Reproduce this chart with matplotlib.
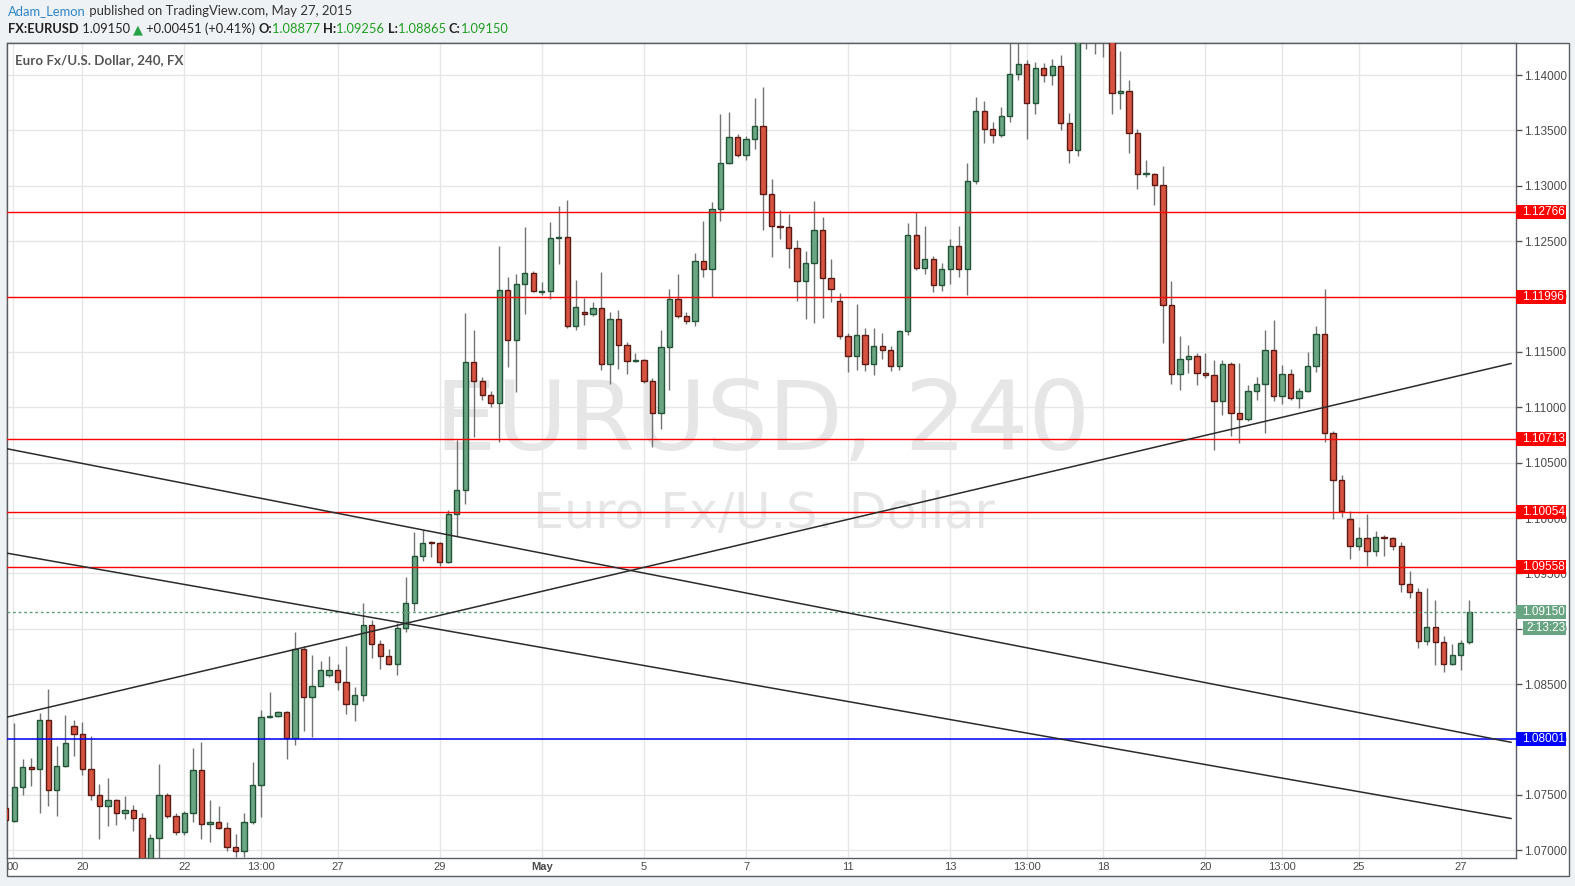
import matplotlib
matplotlib.use('Agg')
import matplotlib.pyplot as plt
import matplotlib.transforms as mtransforms
from matplotlib.patches import Rectangle
import numpy as np

# EURUSD 4h candles, 17 Apr - 27 May 2015
opens = [1.0738, 1.0726, 1.0757, 1.0775, 1.0773, 1.0818, 1.0754, 1.0776, 1.0812, 1.0805,
         1.0773, 1.0750, 1.0740, 1.0745, 1.0734, 1.0736, 1.0729, 1.0690, 1.0711, 1.0750,
         1.0731, 1.0716, 1.0734, 1.0772, 1.0724, 1.0725, 1.0720, 1.0703, 1.0699, 1.0725,
         1.0759, 1.0820, 1.0821, 1.0825, 1.0801, 1.0882, 1.0838, 1.0848, 1.0858, 1.0863,
         1.0852, 1.0832, 1.0840, 1.0903, 1.0886, 1.0875, 1.0868, 1.0901, 1.0923, 1.0966,
         1.0978, 1.0977, 1.0960, 1.1004, 1.1025, 1.1141, 1.1124, 1.1111, 1.1104, 1.1206,
         1.1161, 1.1211, 1.1221, 1.1204, 1.1205, 1.1253, 1.1254, 1.1173, 1.1186, 1.1184,
         1.1190, 1.1139, 1.1180, 1.1156, 1.1142, 1.1143, 1.1124, 1.1095, 1.1154, 1.1198,
         1.1182, 1.1178, 1.1232, 1.1225, 1.1279, 1.1321, 1.1344, 1.1328, 1.1342, 1.1354,
         1.1293, 1.1264, 1.1263, 1.1244, 1.1214, 1.1230, 1.1260, 1.1217, 1.1196, 1.1164,
         1.1146, 1.1165, 1.1139, 1.1155, 1.1152, 1.1137, 1.1169, 1.1256, 1.1226, 1.1234,
         1.1210, 1.1225, 1.1246, 1.1225, 1.1304, 1.1368, 1.1351, 1.1346, 1.1363, 1.1401,
         1.1410, 1.1375, 1.1406, 1.1400, 1.1408, 1.1357, 1.1332, 1.1440, 1.1452, 1.1445,
         1.1438, 1.1384, 1.1386, 1.1348, 1.1311, 1.1311, 1.1301, 1.1192, 1.1130, 1.1144,
         1.1146, 1.1131, 1.1129, 1.1106, 1.1139, 1.1095, 1.1089, 1.1115, 1.1121, 1.1152,
         1.1110, 1.1130, 1.1108, 1.1115, 1.1137, 1.1166, 1.1077, 1.1034, 1.0999, 1.0975,
         1.0982, 1.0970, 1.0983, 1.0982, 1.0975, 1.0940, 1.0933, 1.0889, 1.0902, 1.0888,
         1.0868, 1.0876, 1.08877]
highs = [1.0741, 1.0815, 1.0782, 1.0783, 1.0824, 1.0846, 1.0794, 1.0822, 1.0818, 1.0816,
         1.0803, 1.0760, 1.0765, 1.0746, 1.0749, 1.0741, 1.0734, 1.0715, 1.0778, 1.0752,
         1.0734, 1.0735, 1.0792, 1.0798, 1.0745, 1.0740, 1.0725, 1.0715, 1.0734, 1.0780,
         1.0827, 1.0843, 1.0826, 1.0826, 1.0897, 1.0884, 1.0876, 1.0871, 1.0875, 1.0868,
         1.0884, 1.0847, 1.0923, 1.0908, 1.0890, 1.0882, 1.0905, 1.0947, 1.0987, 1.0989,
         1.0979, 1.0978, 1.1007, 1.1070, 1.1185, 1.1170, 1.1127, 1.1115, 1.1246, 1.1218,
         1.1220, 1.1263, 1.1223, 1.1213, 1.1267, 1.1282, 1.1287, 1.1215, 1.1199, 1.1195,
         1.1222, 1.1186, 1.1188, 1.1159, 1.1149, 1.1144, 1.1126, 1.1170, 1.1207, 1.1220,
         1.1186, 1.1239, 1.1268, 1.1285, 1.1365, 1.1367, 1.1347, 1.1345, 1.1379, 1.1389,
         1.1306, 1.1278, 1.1275, 1.1251, 1.1241, 1.1286, 1.1272, 1.1234, 1.1203, 1.1167,
         1.1193, 1.1172, 1.1172, 1.1167, 1.1155, 1.1170, 1.1266, 1.1276, 1.1264, 1.1237,
         1.1230, 1.1252, 1.1264, 1.1321, 1.1380, 1.1377, 1.1358, 1.1371, 1.1435, 1.1435,
         1.1414, 1.1412, 1.1411, 1.1415, 1.1418, 1.1366, 1.1448, 1.1467, 1.1460, 1.1455,
         1.1445, 1.1422, 1.1396, 1.1351, 1.1323, 1.1312, 1.1318, 1.1214, 1.1164, 1.1156,
         1.1149, 1.1149, 1.1143, 1.1143, 1.1141, 1.1140, 1.1120, 1.1127, 1.1170, 1.1179,
         1.1138, 1.1135, 1.1117, 1.1150, 1.1173, 1.1207, 1.1079, 1.1039, 1.1006, 1.0992,
         1.1004, 1.0988, 1.0985, 1.0983, 1.0978, 1.0952, 1.0937, 1.0937, 1.0926, 1.0893,
         1.0886, 1.0890, 1.09256]
lows = [1.0725, 1.0725, 1.0750, 1.0758, 1.0734, 1.0740, 1.0731, 1.0775, 1.0785, 1.0768,
        1.0745, 1.0710, 1.0722, 1.0723, 1.0728, 1.0717, 1.0683, 1.0685, 1.0690, 1.0729,
        1.0714, 1.0714, 1.0725, 1.0710, 1.0707, 1.0719, 1.0699, 1.0694, 1.0694, 1.0724,
        1.0730, 1.0819, 1.0820, 1.0782, 1.0795, 1.0808, 1.0802, 1.0848, 1.0856, 1.0845,
        1.0823, 1.0817, 1.0835, 1.0874, 1.0864, 1.0867, 1.0858, 1.0897, 1.0916, 1.0961,
        1.0965, 1.0957, 1.0959, 1.0984, 1.1013, 1.1073, 1.1107, 1.1100, 1.1069, 1.1136,
        1.1114, 1.1184, 1.1204, 1.1201, 1.1198, 1.1229, 1.1172, 1.1170, 1.1174, 1.1182,
        1.1134, 1.1121, 1.1135, 1.1130, 1.1141, 1.1122, 1.1064, 1.1080, 1.1116, 1.1181,
        1.1175, 1.1173, 1.1218, 1.1200, 1.1268, 1.1320, 1.1326, 1.1323, 1.1333, 1.1260,
        1.1236, 1.1252, 1.1226, 1.1196, 1.1180, 1.1176, 1.1181, 1.1195, 1.1162, 1.1132,
        1.1134, 1.1133, 1.1129, 1.1144, 1.1133, 1.1134, 1.1165, 1.1224, 1.1220, 1.1204,
        1.1205, 1.1211, 1.1218, 1.1201, 1.1302, 1.1339, 1.1339, 1.1344, 1.1358, 1.1396,
        1.1342, 1.1365, 1.1394, 1.1391, 1.1350, 1.1321, 1.1327, 1.1424, 1.1419, 1.1416,
        1.1365, 1.1369, 1.1330, 1.1297, 1.1308, 1.1283, 1.1158, 1.1121, 1.1116, 1.1131,
        1.1120, 1.1126, 1.1061, 1.1093, 1.1074, 1.1068, 1.1088, 1.1107, 1.1077, 1.1106,
        1.1103, 1.1107, 1.1099, 1.1114, 1.1132, 1.1069, 1.0999, 1.1001, 1.0963, 1.0971,
        1.0957, 1.0966, 1.0966, 1.0971, 1.0933, 1.0928, 1.0883, 1.0885, 1.0867, 1.0861,
        1.0867, 1.0863, 1.08865]
closes = [1.0727, 1.0757, 1.0775, 1.0773, 1.0818, 1.0754, 1.0776, 1.0797, 1.0805, 1.0773,
          1.0750, 1.0740, 1.0745, 1.0734, 1.0736, 1.0729, 1.0688, 1.0711, 1.0750, 1.0731,
          1.0716, 1.0734, 1.0772, 1.0724, 1.0725, 1.0720, 1.0703, 1.0699, 1.0725, 1.0759,
          1.0820, 1.0821, 1.0825, 1.0801, 1.0882, 1.0838, 1.0848, 1.0863, 1.0863, 1.0852,
          1.0832, 1.0840, 1.0903, 1.0886, 1.0875, 1.0868, 1.0901, 1.0923, 1.0966, 1.0977,
          1.0977, 1.0960, 1.1004, 1.1025, 1.1141, 1.1124, 1.1111, 1.1104, 1.1206, 1.1161,
          1.1211, 1.1221, 1.1205, 1.1205, 1.1253, 1.1254, 1.1173, 1.1191, 1.1184, 1.1190,
          1.1139, 1.1180, 1.1156, 1.1142, 1.1143, 1.1124, 1.1095, 1.1154, 1.1198, 1.1182,
          1.1178, 1.1232, 1.1225, 1.1279, 1.1321, 1.1344, 1.1328, 1.1342, 1.1354, 1.1293,
          1.1264, 1.1263, 1.1244, 1.1214, 1.1230, 1.1260, 1.1217, 1.1207, 1.1164, 1.1146,
          1.1165, 1.1139, 1.1155, 1.1152, 1.1137, 1.1169, 1.1256, 1.1226, 1.1234, 1.1210,
          1.1225, 1.1246, 1.1225, 1.1304, 1.1368, 1.1351, 1.1346, 1.1363, 1.1401, 1.1410,
          1.1375, 1.1406, 1.1400, 1.1408, 1.1357, 1.1332, 1.1440, 1.1452, 1.1445, 1.1438,
          1.1384, 1.1386, 1.1348, 1.1311, 1.1312, 1.1301, 1.1192, 1.1130, 1.1144, 1.1146,
          1.1131, 1.1129, 1.1106, 1.1139, 1.1095, 1.1089, 1.1115, 1.1121, 1.1152, 1.1110,
          1.1130, 1.1108, 1.1115, 1.1137, 1.1166, 1.1077, 1.1034, 1.1006, 1.0975, 1.0982,
          1.0970, 1.0983, 1.0982, 1.0975, 1.0940, 1.0933, 1.0889, 1.0902, 1.0888, 1.0868,
          1.0876, 1.0887, 1.09150]

# date axis labels, placed on candle numbers
date_pos = [0.85, 9, 21, 30, 39, 51, 63, 75, 87, 99, 111, 120, 129, 141, 150, 159, 171]
date_labels = ['00', '20', '22', '13:00', '27', '29', 'May', '5', '7', '11', '13', '13:00',
               '18', '20', '13:00', '25', '27']

# horizontal levels drawn on the chart
red_levels = [1.12766, 1.11996, 1.10713, 1.10054, 1.09558]
blue_level = 1.08001
last_price = 1.09150
countdown = '2:13:23'

# trend lines: (candle, price) -> (candle, price)
trend_lines = [((0.1, 1.08201), (177.0, 1.11397)),
               ((0.1, 1.10626), (177.0, 1.07973)),
               ((0.1, 1.09683), (177.0, 1.07285))]

W, H = 1575, 886
fig = plt.figure(figsize=(W / 100, H / 100), dpi=100, facecolor='#eff2f5')
ident = mtransforms.IdentityTransform()

# white chart panel with thin border (behind the axes)
fig.patches.append(Rectangle((7 / W, 1 - 876 / H), 1562 / W, 833 / H, transform=fig.transFigure,
                             facecolor='white', edgecolor='#5a5d63', lw=1, zorder=-5))

ax = fig.add_axes([7 / W, 1 - 857.7 / H, 1509 / W, 814.7 / H])
ax.set_facecolor('white')
ax.set_xlim(0.14, 177.5)
ax.set_ylim(1.06932, 1.1429)

o = np.array(opens)
h = np.array(highs)
l = np.array(lows)
c = np.array(closes)
x = np.arange(len(o))
up = c >= o

# watermark
ax.text(89.0, 1.10850, 'EURUSD, 240', fontsize=70, color='#e6e6e6', ha='center', va='center',
        family='DejaVu Sans', zorder=0.5)
ax.text(89.1, 1.10040, 'Euro Fx/U.S. Dollar', fontsize=35.5, color='#e6e6e6', ha='center',
        va='center', family='DejaVu Sans', zorder=0.5)

# candles
ax.vlines(x, l, h, color='#737373', lw=1, zorder=2)
body_lo = np.minimum(o, c)
body_h = np.maximum(np.abs(c - o), 0.00004)
ax.bar(x, body_h, bottom=body_lo, width=0.62,
       color=np.where(up, '#6ba583', '#d75442'),
       edgecolor=np.where(up, '#225437', '#5b1a13'), linewidth=1, zorder=3)

# levels and trend lines
for lv in red_levels:
    ax.axhline(lv, color='#ff0000', lw=1, zorder=4)
ax.axhline(blue_level, color='#0000ff', lw=1.1, zorder=4)
ax.axhline(last_price, color='#5f9c78', lw=1, ls=(0, (2, 2)), zorder=4)
for (x1, y1), (x2, y2) in trend_lines:
    ax.plot([x1, x2], [y1, y2], color='#2b2b2b', lw=1.1, zorder=4, solid_capstyle='butt')

# grid and axes
ax.set_yticks(np.arange(1.07, 1.14001, 0.005))
ax.yaxis.set_major_formatter(matplotlib.ticker.FormatStrFormatter('%.5f'))
ax.yaxis.tick_right()
ax.tick_params(axis='y', length=4, width=1, color='#555555', pad=2, labelsize=8.5,
               labelcolor='#4a4a4a')
for t in ax.get_yticklabels():
    t.set_family(['Liberation Sans', 'DejaVu Sans'])
ax.set_xticks(date_pos)
ax.set_xticklabels(date_labels)
ax.tick_params(axis='x', length=0, pad=3, labelsize=8, labelcolor='#4a4a4a')
for t in ax.get_xticklabels():
    t.set_family(['Liberation Sans Narrow', 'Liberation Sans', 'DejaVu Sans'])
    if t.get_text() == 'May':
        t.set_fontweight('bold')
ax.grid(True, color='#e6e6e6', lw=1, zorder=0)
ax.set_axisbelow(True)
for s in ax.spines.values():
    s.set_color('#5a5d63')
    s.set_linewidth(1)

# price tags on the right scale
tr = mtransforms.blended_transform_factory(ax.transAxes, ax.transData)
tag_h = 14 * (ax.get_ylim()[1] - ax.get_ylim()[0]) / 814.7
tags = [(lv, '#ff0000') for lv in red_levels] + [(blue_level, '#0000ff'), (last_price, '#6aa583')]
for lv, col in tags:
    ax.add_patch(Rectangle((1.0, lv - tag_h / 2), 50 / 1509, tag_h, transform=tr,
                           facecolor=col, edgecolor='none', clip_on=False, zorder=6))
    ax.text(1.0 + 6.5 / 1509, lv, '%.5f' % lv, transform=tr, color='white', fontsize=8.5,
            va='center', ha='left', family=['Liberation Sans', 'DejaVu Sans'], clip_on=False, zorder=7)
off = mtransforms.ScaledTranslation(0, -16 / 100, fig.dpi_scale_trans)
ax.add_patch(Rectangle((1.0 + 7 / 1509, last_price - tag_h / 2), 43 / 1509, tag_h,
                       transform=tr + off, facecolor='#6aa583', edgecolor='none',
                       clip_on=False, zorder=6))
ax.text(1.0 + 10 / 1509, last_price, countdown, transform=tr + off, color='white', fontsize=8.5,
        va='center', ha='left', family=['Liberation Sans', 'DejaVu Sans'], clip_on=False, zorder=7)

# chart title inside panel
fig.text(15, H - 60, 'Euro Fx/U.S. Dollar, 240, FX', transform=ident, fontsize=9.6,
         fontweight='bold', color='#555555', family=['Lato', 'DejaVu Sans'], va='center', ha='left')

# header lines, pieces laid out one after another
renderer = fig.canvas.get_renderer()


def text_row(x0, y0, parts, size):
    xx = x0
    for s, col, wt in parts:
        t = fig.text(xx, H - y0, s, color=col, fontweight=wt, fontsize=size,
                     family=['Lato', 'DejaVu Sans'], va='center', ha='left', transform=ident)
        xx = t.get_window_extent(renderer).x1


dark = '#222222'
grn = '#1f9e1f'
text_row(8, 11, [('Adam_Lemon', '#2e86c8', 'normal'),
                 (' published on TradingView.com, May 27, 2015', '#333333', 'normal')], 9.4)
text_row(8, 29, [('FX:EURUSD', dark, 'bold'), (' 1.09150 ', dark, 'normal'),
                 ('\u25b2', '#25a244', 'normal'), (' +0.00451 (+0.41%) ', dark, 'normal'),
                 ('O:', dark, 'bold'), ('1.08877 ', grn, 'normal'),
                 ('H:', dark, 'bold'), ('1.09256 ', grn, 'normal'),
                 ('L:', dark, 'bold'), ('1.08865 ', grn, 'normal'),
                 ('C:', dark, 'bold'), ('1.09150', grn, 'normal')], 9.3)

fig.savefig('out.png', dpi=100, facecolor=fig.get_facecolor())
